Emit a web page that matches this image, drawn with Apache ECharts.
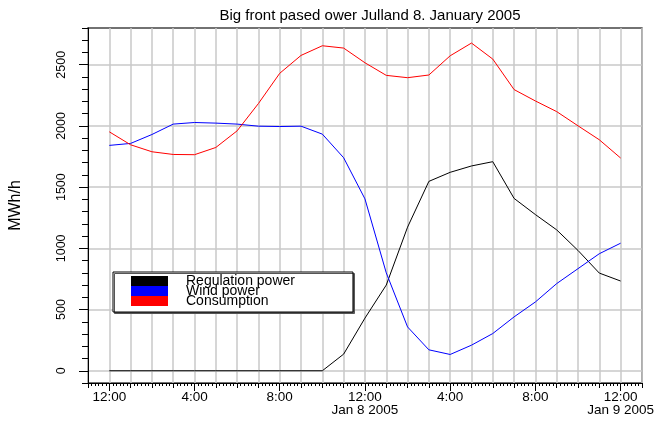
<!DOCTYPE html>
<html>
<head>
<meta charset="utf-8">
<script src="https://cdn.jsdelivr.net/npm/echarts@6/dist/echarts.min.js"></script>
<style>
  html, body { margin: 0; padding: 0; background: #fff; }
  #chart { width: 657px; height: 421px; }
</style>
</head>
<body>
<div id="chart"></div>
<script>
// hours from 0:00 Jan 8 2005
var hours = [0, 1, 2, 3, 4, 5, 6, 7, 8, 9, 10, 11, 12, 13, 14, 15, 16, 17, 18, 19, 20, 21, 22, 23, 24];
var regulation = [0, 0, 0, 0, 0, 0, 0, 0, 0, 0, 0, 136, 430, 700, 1173, 1547, 1621, 1673, 1708, 1408, 1276, 1151, 983, 798, 733];
var wind = [1841, 1857, 1930, 2015, 2028, 2023, 2015, 1998, 1995, 1998, 1933, 1740, 1404, 800, 358, 171, 133, 209, 304, 440, 562, 712, 834, 956, 1042];
var consumption = [1952, 1846, 1789, 1767, 1765, 1824, 1960, 2183, 2430, 2576, 2655, 2636, 2516, 2413, 2394, 2416, 2573, 2677, 2546, 2297, 2204, 2117, 2001, 1887, 1738];

var tickHours = [0, 4, 8, 12, 16, 20, 24];
var tickLabels = ['12:00', '4:00', '8:00', '12:00\nJan 8 2005', '4:00', '8:00', '12:00\nJan 9 2005'];
var yTicks = [0, 500, 1000, 1500, 2000, 2500];

var FONT = 'Liberation Sans, Arial, Helvetica, sans-serif';

function pairs(ys) {
  return hours.map(function (h, i) { return [h, ys[i]]; });
}

var chart = echarts.init(document.getElementById('chart'));
chart.setOption({
  animation: false,
  backgroundColor: '#fff',
  textStyle: { fontFamily: FONT },
  title: {
    text: 'Big front pased ower Julland 8. January 2005',
    left: 365,
    textAlign: 'center',
    top: 3,
    textStyle: { fontSize: 15, fontWeight: 'normal', color: '#000', fontFamily: FONT }
  },
  grid: {
    left: 88, right: 15, top: 28, bottom: 38,
    show: true, borderColor: '#444', borderWidth: 1.5, backgroundColor: 'transparent'
  },
  legend: {
    orient: 'vertical',
    left: 113,
    top: 272,
    padding: [2, 58, 4, 18],
    itemWidth: 37,
    itemHeight: 10,
    itemGap: -4,
    icon: 'rect',
    backgroundColor: '#fff',
    borderColor: '#000',
    borderWidth: 1,
    shadowColor: '#555',
    shadowOffsetX: 1.5,
    shadowOffsetY: 1.5,
    shadowBlur: 0,
    textStyle: { fontSize: 14, color: '#000', fontFamily: FONT, padding: [0, 0, 0, 13] },
    data: ['Regulation power', 'Wind power', 'Consumption']
  },
  xAxis: [{
    type: 'value', min: -1, max: 25, interval: 1, position: 'bottom',
    axisLine: { onZero: false, lineStyle: { color: '#000', width: 1 } },
    axisTick: { length: 5, lineStyle: { color: '#000' } },
    minorTick: { show: true, splitNumber: 6, length: 3, lineStyle: { color: '#000' } },
    axisLabel: { show: false },
    splitLine: { show: true, lineStyle: { color: '#c8c8c8', width: 1.5 } }
  }, {
    type: 'value', min: -1, max: 25, interval: 1, position: 'bottom',
    axisLine: { show: false, onZero: false },
    axisTick: { customValues: tickHours, length: 8, lineStyle: { color: '#000' } },
    axisLabel: {
      customValues: tickHours, margin: 8, fontSize: 13.5, lineHeight: 13, color: '#000',
      verticalAlign: 'top',
      formatter: function (v) { return tickLabels[tickHours.indexOf(v)]; }
    },
    splitLine: { show: false }
  }],
  yAxis: [{
    type: 'value', min: -100, max: 2800, interval: 100, position: 'left',
    axisLine: { show: true, onZero: false, lineStyle: { color: '#000', width: 1 } },
    axisTick: { show: true, length: 6, lineStyle: { color: '#000' } },
    axisLabel: { show: false },
    splitLine: { show: false }
  }, {
    type: 'value', min: -100, max: 2800, interval: 100, position: 'left',
    name: 'MWh/h', nameLocation: 'middle', nameGap: 64, nameRotate: 90,
    nameTextStyle: { fontSize: 16, color: '#000', fontFamily: FONT },
    axisLine: { show: false, onZero: false },
    axisTick: { show: true, customValues: yTicks, length: 9, lineStyle: { color: '#000' } },
    axisLabel: {
      customValues: yTicks, rotate: 90, margin: 20, fontSize: 12.5, color: '#000',
      formatter: function (v) { return String(v); }
    },
    splitLine: { show: true, lineStyle: { color: '#c8c8c8', width: 1.5 } }
  }],
  series: [{
    name: 'Regulation power', type: 'line', data: pairs(regulation),
    showSymbol: false, color: '#000', lineStyle: { width: 1, color: '#000' }
  }, {
    name: 'Wind power', type: 'line', data: pairs(wind),
    showSymbol: false, color: '#0000ff', lineStyle: { width: 1, color: '#0000ff' }
  }, {
    name: 'Consumption', type: 'line', data: pairs(consumption),
    showSymbol: false, color: '#ff0000', lineStyle: { width: 1, color: '#ff0000' }
  }]
});
</script>
</body>
</html>
